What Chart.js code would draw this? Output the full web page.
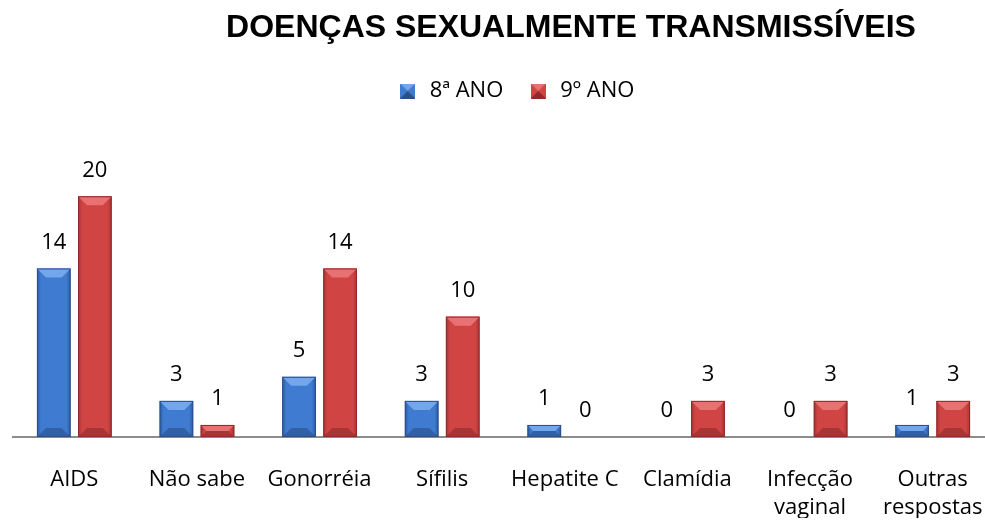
<!DOCTYPE html>
<html>
<head>
<meta charset="utf-8">
<script src="https://cdn.jsdelivr.net/npm/chart.js@4.4.1/dist/chart.umd.min.js"></script>
<style>
  html, body { margin:0; padding:0; background:#fff; overflow:hidden; }
  #wrap { position:relative; width:985px; height:522px; overflow:hidden; }
  #title { position:absolute; left:171px; top:8px; width:800px; text-align:center;
           font-family:"Liberation Sans", Arial, sans-serif; font-weight:bold; font-size:32px; color:#000; white-space:nowrap; }
</style>
</head>
<body>
<div id="wrap">
  <div id="title">DOENÇAS SEXUALMENTE TRANSMISSÍVEIS</div>
  <!-- the original plot runs a little past the right edge of the picture -->
  <canvas id="chart" width="994" height="522"></canvas>
</div>
<script>
// data
const categories = ['AIDS', 'Não sabe', 'Gonorréia', 'Sífilis', 'Hepatite C', 'Clamídia', ['Infecção', 'vaginal'], ['Outras', 'respostas']];
const ano8 = [14, 3, 5, 3, 1, 0, 0, 1];
const ano9 = [20, 1, 14, 10, 0, 3, 3, 3];
const seriesNames = ['8ª ANO', '9º ANO'];

const FONT = '"Open Sans", "Noto Sans", sans-serif';

// colours for the bevelled look: [edge, face, light bevel, dark bevel]
const shades = [
  ['#2b5aa0', '#3f7bd0', '#74a6ec', '#2a4f88'],
  ['#a83232', '#d04444', '#e87272', '#8e2a2a']
];

function legendBox(sh){
  const c = document.createElement('canvas');
  c.width = 15; c.height = 15;
  const g = c.getContext('2d');
  g.fillStyle = sh[1]; g.fillRect(0,0,15,15);
  g.fillStyle = sh[2];
  g.beginPath(); g.moveTo(0,0); g.lineTo(15,0); g.lineTo(7.5,7.5); g.closePath(); g.fill();
  g.fillStyle = sh[3];
  g.beginPath(); g.moveTo(0,15); g.lineTo(15,15); g.lineTo(7.5,7.5); g.closePath(); g.fill();
  return c;
}

// nudge the legend a bit to the right, as in the original
const legendShift = {
  id: 'legendShift',
  afterLayout(chart){
    if (chart.legend) { chart.legend.left += 12; chart.legend.right += 12; }
  }
};

// bevel bars + value labels
const bevelPlugin = {
  id: 'bevel',
  afterDatasetsDraw(chart){
    const ctx = chart.ctx;
    chart.data.datasets.forEach((ds, di) => {
      const sh = shades[di];
      const meta = chart.getDatasetMeta(di);
      meta.data.forEach((bar, i) => {
        const p = bar.getProps(['x','y','base','width'], true);
        const l = p.x - p.width/2, r = p.x + p.width/2, t = p.y, b = p.base;
        const h = b - t;
        if (h > 0.5) {
          const g = ctx.createLinearGradient(l, 0, r, 0);
          g.addColorStop(0, sh[0]); g.addColorStop(0.12, sh[1]);
          g.addColorStop(0.88, sh[1]); g.addColorStop(1, sh[0]);
          ctx.save();
          ctx.fillStyle = g;
          ctx.fillRect(l, t, p.width, h);
          const bv = Math.min(9, h/2);
          ctx.fillStyle = sh[2];
          ctx.beginPath(); ctx.moveTo(l,t); ctx.lineTo(r,t); ctx.lineTo(r-bv,t+bv); ctx.lineTo(l+bv,t+bv); ctx.closePath(); ctx.fill();
          ctx.fillStyle = sh[3];
          ctx.globalAlpha = 0.6;
          ctx.beginPath(); ctx.moveTo(l,b); ctx.lineTo(r,b); ctx.lineTo(r-bv,b-bv); ctx.lineTo(l+bv,b-bv); ctx.closePath(); ctx.fill();
          ctx.globalAlpha = 1;
          ctx.strokeStyle = sh[3]; ctx.lineWidth = 1;
          ctx.strokeRect(l+0.5, t+0.5, p.width-1, h-1);
          ctx.restore();
        }
        ctx.save();
        ctx.fillStyle = '#000';
        ctx.font = '22px ' + FONT;
        ctx.textAlign = 'center';
        ctx.textBaseline = 'middle';
        ctx.fillText(String(ds.data[i]), p.x, t - 26);
        ctx.restore();
      });
    });
  }
};

new Chart(document.getElementById('chart'), {
  type: 'bar',
  data: {
    labels: categories,
    datasets: [
      { label: seriesNames[0], data: ano8, backgroundColor: 'rgba(0,0,0,0)', borderWidth: 0 },
      { label: seriesNames[1], data: ano9, backgroundColor: 'rgba(0,0,0,0)', borderWidth: 0 }
    ]
  },
  options: {
    responsive: false,
    animation: false,
    categoryPercentage: 0.67,
    barPercentage: 0.82,
    layout: { padding: { left: 13, right: 0, top: 56, bottom: 4 } },
    plugins: {
      title: { display: false },
      tooltip: { enabled: false },
      legend: {
        position: 'top',
        labels: {
          font: { family: FONT, size: 22 },
          color: '#000',
          usePointStyle: true,
          generateLabels(chart){
            return chart.data.datasets.map((ds, i) => ({
              text: ds.label, datasetIndex: i, pointStyle: legendBox(shades[i]),
              fillStyle: shades[i][1], strokeStyle: shades[i][1], lineWidth: 0, hidden: false
            }));
          },
          padding: 24
        }
      }
    },
    scales: {
      x: {
        grid: { display: false },
        border: { display: true, color: '#8c8c8c', width: 2 },
        ticks: { color: '#000', font: { family: FONT, size: 22, lineHeight: 1.25 }, padding: 21, maxRotation: 0, autoSkip: false },
        afterFit(scale) { scale.height = 81; scale.paddingLeft = 0; scale.paddingRight = 0; }
      },
      y: {
        display: false,
        min: 0, max: 27
      }
    }
  },
  plugins: [bevelPlugin, legendShift]
});
</script>
</body>
</html>
